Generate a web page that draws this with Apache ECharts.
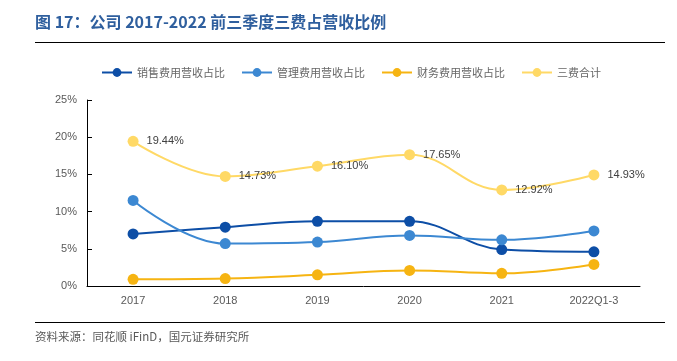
<!DOCTYPE html>
<html><head><meta charset="utf-8">
<script src="https://cdn.jsdelivr.net/npm/echarts@6/dist/echarts.min.js"></script>
<style>html,body{margin:0;padding:0;background:#fff}#c{width:677px;height:361px}</style>
</head><body><div id="c"></div>
<script>
var categories = ['2017','2018','2019','2020','2021','2022Q1-3'];
var salesRatio = [7.0, 7.9, 8.7, 8.7, 4.9, 4.6];
var adminRatio = [11.5, 5.7, 5.9, 6.8, 6.2, 7.4];
var financeRatio = [0.9, 1.0, 1.5, 2.1, 1.7, 2.9];
var totalRatio = [19.44, 14.73, 16.10, 17.65, 12.92, 14.93];
var seriesNames = ['销售费用营收占比','管理费用营收占比','财务费用营收占比','三费合计'];
var yTicks = [0, 5, 10, 15, 20, 25];

var colors = ['#0D4EA6', '#3C88D2', '#F6B412', '#FFD966'];
var chart = echarts.init(document.getElementById('c'));
function mk(name, data, color, label) {
  return {
    name: name, type: 'line', data: data, smooth: 0.4,
    symbol: 'circle', symbolSize: 11, showSymbol: true,
    lineStyle: {color: color, width: 2},
    itemStyle: {color: color},
    label: label ? {show: true, position: 'right', distance: 8, color: '#404040', fontSize: 11,
      fontFamily: 'Liberation Sans, Arial', formatter: function(p){return p.value.toFixed(2)+'%';}} : {show:false}
  };
}
chart.setOption({
  animation: false,
  color: colors,
  graphic: [
    {type:'text', left: 35, top: 14, style:{text:'图 17：公司 2017-2022 前三季度三费占营收比例', fill:'#2F5F9E', font:'bold 16px "Noto Sans CJK SC", sans-serif'}},
    {type:'rect', shape:{x:35,y:42,width:630,height:1}, style:{fill:'#000'}},
    {type:'rect', shape:{x:35,y:322,width:630,height:1}, style:{fill:'#000'}},
    {type:'text', left: 35, top: 331, style:{text:'资料来源：同花顺 iFinD，国元证券研究所', fill:'#595959', font:'11.5px "Noto Sans CJK SC", sans-serif'}}
  ],
  legend: {
    top: 62, left: 96, itemWidth: 30, itemHeight: 11, itemGap: 16,
    textStyle: {color: '#666666', fontSize: 11, fontFamily: '"Noto Sans CJK SC", sans-serif'},
    data: seriesNames
  },
  grid: {left: 87, right: 37, top: 100, bottom: 75},
  xAxis: {
    type: 'category', data: categories, boundaryGap: true,
    axisLine: {lineStyle: {color: '#000', width: 1}},
    axisTick: {inside: true, length: 5, lineStyle: {color: '#000'}},
    axisLabel: {color: '#595959', fontSize: 11, margin: 9, fontFamily: 'Liberation Sans, Arial'}
  },
  yAxis: {
    type: 'value', min: yTicks[0], max: yTicks[yTicks.length-1], interval: 5,
    axisLine: {show: true, lineStyle: {color: '#000', width: 1}},
    axisTick: {show: true, inside: true, length: 5, lineStyle: {color: '#000'}},
    splitLine: {show: false},
    axisLabel: {color: '#595959', fontSize: 11, margin: 10, fontFamily: 'Liberation Sans, Arial', formatter: '{value}%'}
  },
  series: [
    mk(seriesNames[0], salesRatio, colors[0], false),
    mk(seriesNames[1], adminRatio, colors[1], false),
    mk(seriesNames[2], financeRatio, colors[2], false),
    mk(seriesNames[3], totalRatio, colors[3], true)
  ]
});
</script></body></html>
